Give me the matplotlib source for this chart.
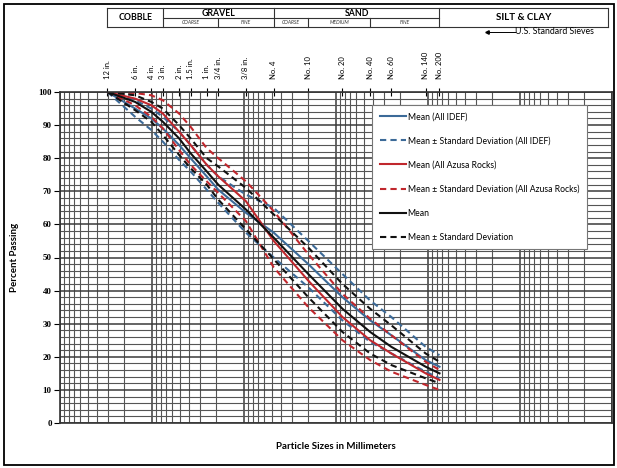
import matplotlib.pyplot as plt
from matplotlib.lines import Line2D
from matplotlib.patches import Rectangle
from matplotlib.transforms import blended_transform_factory
from matplotlib.ticker import FixedLocator, NullFormatter

plt.rcParams['font.family'] = ['Lato', 'DejaVu Sans']

# US standard sieves and their openings in mm
sieve_labels = ['12 in.', '6 in.', '4 in.', '3 in.', '2 in.', '1.5 in.', '1 in.', '3/4 in.',
                '3/8 in.', 'No. 4', 'No. 10', 'No. 20', 'No. 40', 'No. 60', 'No. 140', 'No. 200']
sieve_mm = [304.8, 152.4, 101.6, 76.2, 50.8, 38.1, 25.4, 19.05,
            9.525, 4.75, 2.0, 0.85, 0.425, 0.25, 0.106, 0.075]

# percent passing at each sieve
idef_mean = [100, 95, 92, 89, 84, 80, 74.5, 70.5, 63.5, 57.5, 48, 38, 31, 26.5, 19, 17]
idef_upper = [100, 97.5, 95, 92.5, 88, 84, 78, 74.5, 69, 65, 55, 45, 37, 32, 23, 20.5]
idef_lower = [100, 92.5, 88.5, 85, 79.5, 76, 70.5, 66.5, 57.5, 50, 41, 31, 24.5, 21, 15.5, 13.5]

azusa_mean = [100, 98, 96, 93.5, 88, 84, 78, 74.5, 67, 55, 43, 32, 25, 21, 15, 13]
azusa_upper = [100, 99.7, 99, 97.5, 93.5, 89.5, 83, 80, 73, 64, 51, 39, 31.5, 26.5, 18.5, 16]
azusa_lower = [100, 96, 92.5, 89, 82.5, 78, 73, 69.5, 61, 47, 35, 25, 19, 15.5, 11.5, 10]

all_mean = [100, 97, 94, 91, 86, 81.5, 76, 72, 64.5, 56, 45, 34.5, 27.5, 23, 17, 15]
all_upper = [100, 99, 97, 95, 90, 86, 80, 77.5, 71, 63, 53, 42, 34.5, 29.5, 21, 18.5]
all_lower = [100, 94.5, 91, 87, 81, 77, 72, 67.5, 58.5, 49.5, 38, 27.5, 21, 17.5, 13.5, 12]

# soil classification bands (mm)
band_edges = [304.8, 75, 4.75, 0.075, 0.0011]
sub_edges = [19, 2.0, 0.425]

blue = '#3c6a98'
red = '#c0272d'
black = '#111111'

W, H = 617, 468
fig = plt.figure(figsize=(W / 100, H / 100), dpi=100)
ax = fig.add_axes([60 / W, 1 - 423 / H, 552 / W, 331 / H])
ax.set_xscale('log')
ax.set_xlim(1000, 0.001)
ax.set_ylim(0, 100)

ax.yaxis.set_major_locator(FixedLocator(range(0, 101, 10)))
ax.yaxis.set_minor_locator(FixedLocator(range(0, 101, 2)))
ax.grid(which='major', color='#3a3a3a', lw=1.1)
ax.grid(which='minor', color='#555555', lw=0.8)
ax.set_axisbelow(True)
for s in ax.spines.values():
    s.set_color('#333333')
    s.set_linewidth(1.2)

ax.tick_params(axis='x', which='both', bottom=False, labelbottom=False)
ax.tick_params(axis='y', which='minor', left=False)
ax.tick_params(axis='y', which='major', length=4, width=0.8, pad=2)
ax.set_yticks(range(0, 101, 10))
ax.set_yticklabels([str(v) for v in range(0, 101, 10)],
                   fontfamily='Liberation Serif', fontweight='bold', fontsize=6.5)

# sieve marks on top
top = ax.secondary_xaxis('top')
top.set_xticks(sieve_mm)
top.set_xticklabels(sieve_labels, rotation=90, fontsize=5.5)
top.xaxis.set_minor_formatter(NullFormatter())
top.tick_params(axis='x', which='major', direction='inout', length=6, width=0.8, pad=6)
top.tick_params(axis='x', which='minor', top=False)
top.spines['top'].set_visible(False)

ax.plot(sieve_mm, idef_mean, color=blue, lw=1.5, label='Mean (All IDEF)')
ax.plot(sieve_mm, idef_upper, color=blue, lw=1.5, ls=(0, (3, 2)),
        label='Mean \u00b1 Standard Deviation (All IDEF)')
ax.plot(sieve_mm, idef_lower, color=blue, lw=1.5, ls=(0, (3, 2)))
ax.plot(sieve_mm, azusa_mean, color=red, lw=1.5, label='Mean (All Azusa Rocks)')
ax.plot(sieve_mm, azusa_upper, color=red, lw=1.5, ls=(0, (3, 2)),
        label='Mean \u00b1 Standard Deviation (All Azusa Rocks)')
ax.plot(sieve_mm, azusa_lower, color=red, lw=1.5, ls=(0, (3, 2)))
ax.plot(sieve_mm, all_mean, color=black, lw=1.5, label='Mean')
ax.plot(sieve_mm, all_upper, color=black, lw=1.5, ls=(0, (3, 2)),
        label='Mean \u00b1 Standard Deviation')
ax.plot(sieve_mm, all_lower, color=black, lw=1.5, ls=(0, (3, 2)))

leg = ax.legend(loc='upper left', bbox_to_anchor=(0.565, 0.962), fontsize=6.2,
                frameon=True, fancybox=False, framealpha=1, edgecolor='#777777',
                handlelength=3.1, handletextpad=0.15, labelspacing=1.75,
                borderpad=0.9, borderaxespad=0)
leg.get_frame().set_linewidth(0.8)

ax.set_ylabel('Percent Passing', fontsize=7, fontweight='bold', labelpad=14)
ax.set_xlabel('Particle Sizes in Millimeters', fontsize=7, fontweight='bold', labelpad=14)

# classification table above the plot
tr = blended_transform_factory(ax.transData, fig.transFigure)
y_top, y_mid, y_bot = 1 - 8 / H, 1 - 18 / H, 1 - 27 / H
x0, x1 = band_edges[0], band_edges[-1]
kw = dict(transform=tr, color='#333333', lw=0.8, clip_on=False)
for yy in (y_top, y_bot):
    fig.add_artist(Line2D([x0, x1], [yy, yy], **kw))
fig.add_artist(Line2D([75, 0.075], [y_mid, y_mid], **kw))
for xx in band_edges:
    fig.add_artist(Line2D([xx, xx], [y_bot, y_top], **kw))
for xx in sub_edges:
    fig.add_artist(Line2D([xx, xx], [y_bot, y_mid], **kw))


def gmid(a, b):
    return (a * b) ** 0.5


yc = (y_top + y_bot) / 2
fig.text(gmid(304.8, 75), yc, 'COBBLE', transform=tr, ha='center', va='center',
         fontsize=6.3, fontweight='bold')
fig.text(gmid(75, 4.75), (y_top + y_mid) / 2, 'GRAVEL', transform=tr, ha='center',
         va='center', fontsize=6.3, fontweight='bold')
fig.text(gmid(4.75, 0.075), (y_top + y_mid) / 2, 'SAND', transform=tr, ha='center',
         va='center', fontsize=6.3, fontweight='bold')
fig.text(gmid(0.075, 0.0011), yc, 'SILT & CLAY', transform=tr, ha='center',
         va='center', fontsize=7, fontweight='bold')
ysub = (y_mid + y_bot) / 2
for a, b, t in [(75, 19, 'COARSE'), (19, 4.75, 'FINE'), (4.75, 2.0, 'COARSE'),
                (2.0, 0.425, 'MEDIUM'), (0.425, 0.075, 'FINE')]:
    fig.text(gmid(a, b), ysub, t, transform=tr, ha='center', va='center',
             fontsize=3.6, fontstyle='italic', color='#333333')

fig.text(515 / W, 1 - 32 / H, 'U.S. Standard Sieves', ha='left', va='center', fontsize=6.3)
fig.add_artist(Line2D([487 / W, 515 / W], [1 - 32 / H, 1 - 32 / H],
                      transform=fig.transFigure, color='k', lw=0.7))
fig.add_artist(Line2D([487 / W], [1 - 32 / H], transform=fig.transFigure, color='k',
                      marker='<', markersize=2.5, lw=0))

fig.add_artist(Rectangle((4 / W, 3 / H), 610 / W, 461 / H, transform=fig.transFigure,
                         fill=False, ec='k', lw=1.3))

fig.savefig('out.png', dpi=100)
